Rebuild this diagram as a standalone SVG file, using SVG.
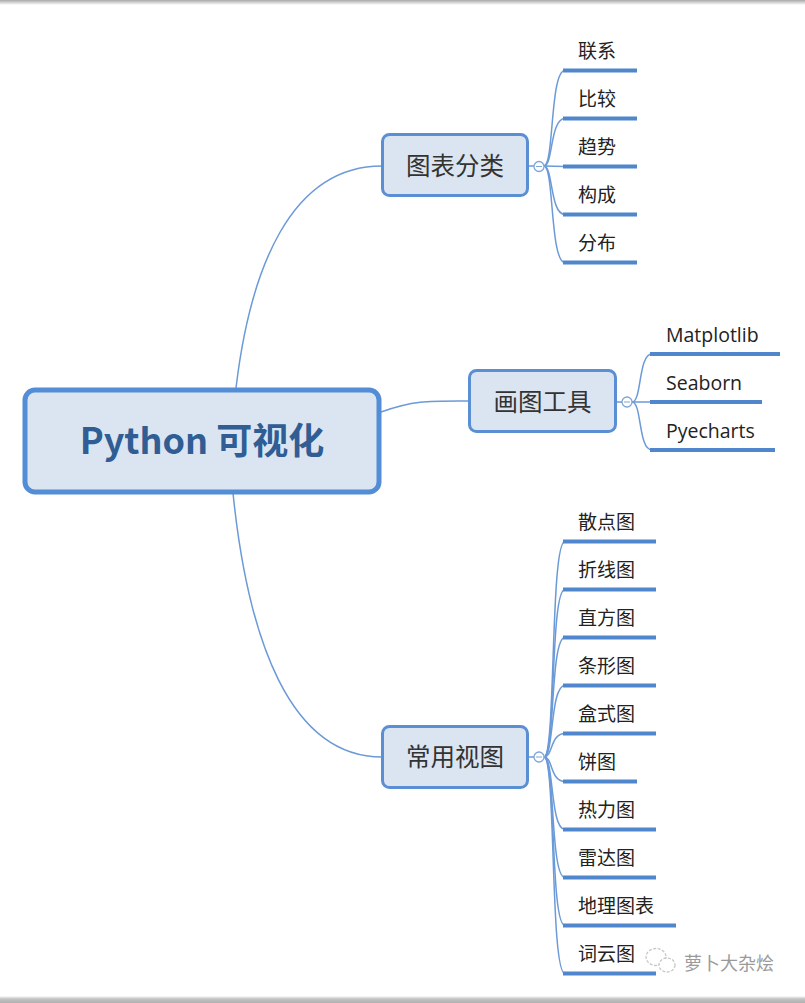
<svg xmlns="http://www.w3.org/2000/svg" width="805" height="1003" viewBox="0 0 805 1003">
<defs>
<linearGradient id="topShade" x1="0" y1="0" x2="0" y2="1"><stop offset="0" stop-color="#a8a8a8"/><stop offset="1" stop-color="#ffffff"/></linearGradient>
<linearGradient id="botShade" x1="0" y1="0" x2="0" y2="1"><stop offset="0" stop-color="#ffffff"/><stop offset="0.4" stop-color="#c4c4c4"/><stop offset="1" stop-color="#b0b0b0"/></linearGradient>
<style>
.conn{fill:none;stroke:#6b9ad8;stroke-width:1.5}
.leafline{stroke:#4f86cc;stroke-width:4;stroke-linecap:butt}
.box{fill:#dbe5f1;stroke:#5b8fd4;stroke-width:3}
.root{fill:#dbe5f1;stroke:#538dd5;stroke-width:5}
.btxt{font-family:"Noto Sans CJK SC","Microsoft YaHei",sans-serif;font-size:24.5px;fill:#333;text-anchor:middle}
.ltxt{font-family:"Noto Sans CJK SC","Microsoft YaHei",sans-serif;font-size:19px;fill:#222}
.etxt{font-family:"Open Sans","Noto Sans","Liberation Sans",sans-serif;font-size:19.5px;fill:#222}
.rtxt{font-family:"Noto Sans CJK SC","Microsoft YaHei",sans-serif;font-size:36px;font-weight:bold;fill:#2f5d94;text-anchor:middle}
.toggle{fill:#fff;stroke:#7fa6d8;stroke-width:1.3}
</style>
</defs>
<rect x="0" y="0" width="805" height="1003" fill="#ffffff"/>
<rect x="0" y="0" width="805" height="5" fill="url(#topShade)"/>
<rect x="0" y="996" width="805" height="7" fill="url(#botShade)"/>

<g id="connectors">
<path class="conn" d="M236,388 C250,270 290,166 382,166"/>
<path class="conn" d="M381,412 C415,400 430,401 469,401"/>
<path class="conn" d="M233,493 C248,640 290,757 382,757"/>
<path class="conn" d="M528,166 L534,166"/>
<path class="conn" d="M544,166 C554,166 550,70.5 565,70.5"/>
<path class="conn" d="M544,166 C553,166 550,118.5 565,118.5"/>
<path class="conn" d="M544,166 L565,166.5"/>
<path class="conn" d="M544,166 C553,166 550,214.5 565,214.5"/>
<path class="conn" d="M544,166 C554,166 550,262.5 565,262.5"/>
<path class="conn" d="M616,402 L622,402"/>
<path class="conn" d="M632,402 C642,402 638,354 652,354"/>
<path class="conn" d="M632,402 L652,402"/>
<path class="conn" d="M632,402 C642,402 638,450 652,450"/>
<path class="conn" d="M528,757 L534,757"/>
<path class="conn" d="M544,757 C556,757 550,541.5 565,541.5"/>
<path class="conn" d="M544,757 C556,757 550,589.5 565,589.5"/>
<path class="conn" d="M544,757 C555,757 550,637.5 565,637.5"/>
<path class="conn" d="M544,757 C554,757 550,685.5 565,685.5"/>
<path class="conn" d="M544,757 C553,757 550,733.5 565,733.5"/>
<path class="conn" d="M544,757 C553,757 550,781.5 565,781.5"/>
<path class="conn" d="M544,757 C554,757 550,829.5 565,829.5"/>
<path class="conn" d="M544,757 C555,757 550,877.5 565,877.5"/>
<path class="conn" d="M544,757 C556,757 550,925.5 565,925.5"/>
<path class="conn" d="M544,757 C556,757 550,973.5 565,973.5"/>
</g>

<g id="root">
<rect class="root" x="25" y="390" width="354" height="102" rx="10"/>
<text class="rtxt" x="202" y="454">Python 可视化</text>
</g>

<g id="chart-types">
<rect class="box" x="382.5" y="134.5" width="145" height="61" rx="7"/>
<text class="btxt" x="455" y="175">图表分类</text>
<circle class="toggle" cx="539" cy="166.5" r="5"/>
<line x1="536" y1="166.5" x2="542" y2="166.5" stroke="#7fa6d8" stroke-width="1"/>
</g>
<g id="leaf-lianxi"><line class="leafline" x1="563" y1="70.5" x2="637" y2="70.5"/><text class="ltxt" x="578" y="58">联系</text></g>
<g id="leaf-bijiao"><line class="leafline" x1="563" y1="118.5" x2="637" y2="118.5"/><text class="ltxt" x="578" y="106">比较</text></g>
<g id="leaf-qushi"><line class="leafline" x1="563" y1="166.5" x2="637" y2="166.5"/><text class="ltxt" x="578" y="154">趋势</text></g>
<g id="leaf-goucheng"><line class="leafline" x1="563" y1="214.5" x2="637" y2="214.5"/><text class="ltxt" x="578" y="202">构成</text></g>
<g id="leaf-fenbu"><line class="leafline" x1="563" y1="262.5" x2="637" y2="262.5"/><text class="ltxt" x="578" y="250">分布</text></g>

<g id="drawing-tools">
<rect class="box" x="469.5" y="370.5" width="146" height="61" rx="7"/>
<text class="btxt" x="542.5" y="411">画图工具</text>
<circle class="toggle" cx="627" cy="402" r="5"/>
<line x1="624" y1="402" x2="630" y2="402" stroke="#7fa6d8" stroke-width="1"/>
</g>
<g id="leaf-matplotlib"><line class="leafline" x1="650" y1="354" x2="780" y2="354"/><text class="etxt" x="666" y="342">Matplotlib</text></g>
<g id="leaf-seaborn"><line class="leafline" x1="650" y1="402" x2="762" y2="402"/><text class="etxt" x="666" y="390">Seaborn</text></g>
<g id="leaf-pyecharts"><line class="leafline" x1="650" y1="450" x2="775" y2="450"/><text class="etxt" x="666" y="438">Pyecharts</text></g>

<g id="common-views">
<rect class="box" x="382.5" y="726.5" width="145" height="61" rx="7"/>
<text class="btxt" x="455" y="766">常用视图</text>
<circle class="toggle" cx="539" cy="757" r="5"/>
<line x1="536" y1="757" x2="542" y2="757" stroke="#7fa6d8" stroke-width="1"/>
</g>
<g id="leaf-sandian"><line class="leafline" x1="563" y1="541.5" x2="656" y2="541.5"/><text class="ltxt" x="578" y="529">散点图</text></g>
<g id="leaf-zhexian"><line class="leafline" x1="563" y1="589.5" x2="656" y2="589.5"/><text class="ltxt" x="578" y="577">折线图</text></g>
<g id="leaf-zhifang"><line class="leafline" x1="563" y1="637.5" x2="656" y2="637.5"/><text class="ltxt" x="578" y="625">直方图</text></g>
<g id="leaf-tiaoxing"><line class="leafline" x1="563" y1="685.5" x2="656" y2="685.5"/><text class="ltxt" x="578" y="673">条形图</text></g>
<g id="leaf-heshi"><line class="leafline" x1="563" y1="733.5" x2="656" y2="733.5"/><text class="ltxt" x="578" y="721">盒式图</text></g>
<g id="leaf-bing"><line class="leafline" x1="563" y1="781.5" x2="637" y2="781.5"/><text class="ltxt" x="578" y="769">饼图</text></g>
<g id="leaf-reli"><line class="leafline" x1="563" y1="829.5" x2="656" y2="829.5"/><text class="ltxt" x="578" y="817">热力图</text></g>
<g id="leaf-leida"><line class="leafline" x1="563" y1="877.5" x2="656" y2="877.5"/><text class="ltxt" x="578" y="865">雷达图</text></g>
<g id="leaf-dili"><line class="leafline" x1="563" y1="925.5" x2="676" y2="925.5"/><text class="ltxt" x="578" y="913">地理图表</text></g>
<g id="leaf-ciyun"><line class="leafline" x1="563" y1="973.5" x2="656" y2="973.5"/><text class="ltxt" x="578" y="961">词云图</text></g>

<g id="watermark">
<ellipse cx="656" cy="957" rx="10" ry="8.5" fill="none" stroke="#c8c8c8" stroke-width="1.3" stroke-dasharray="3 1.5"/>
<ellipse cx="667" cy="965" rx="8" ry="7" fill="#fff" stroke="#c8c8c8" stroke-width="1.3" stroke-dasharray="3 1.5"/>
<text x="684" y="970" font-family="Noto Sans CJK SC, sans-serif" font-size="18" fill="#9a9a9a">萝卜大杂烩</text>
</g>
</svg>
